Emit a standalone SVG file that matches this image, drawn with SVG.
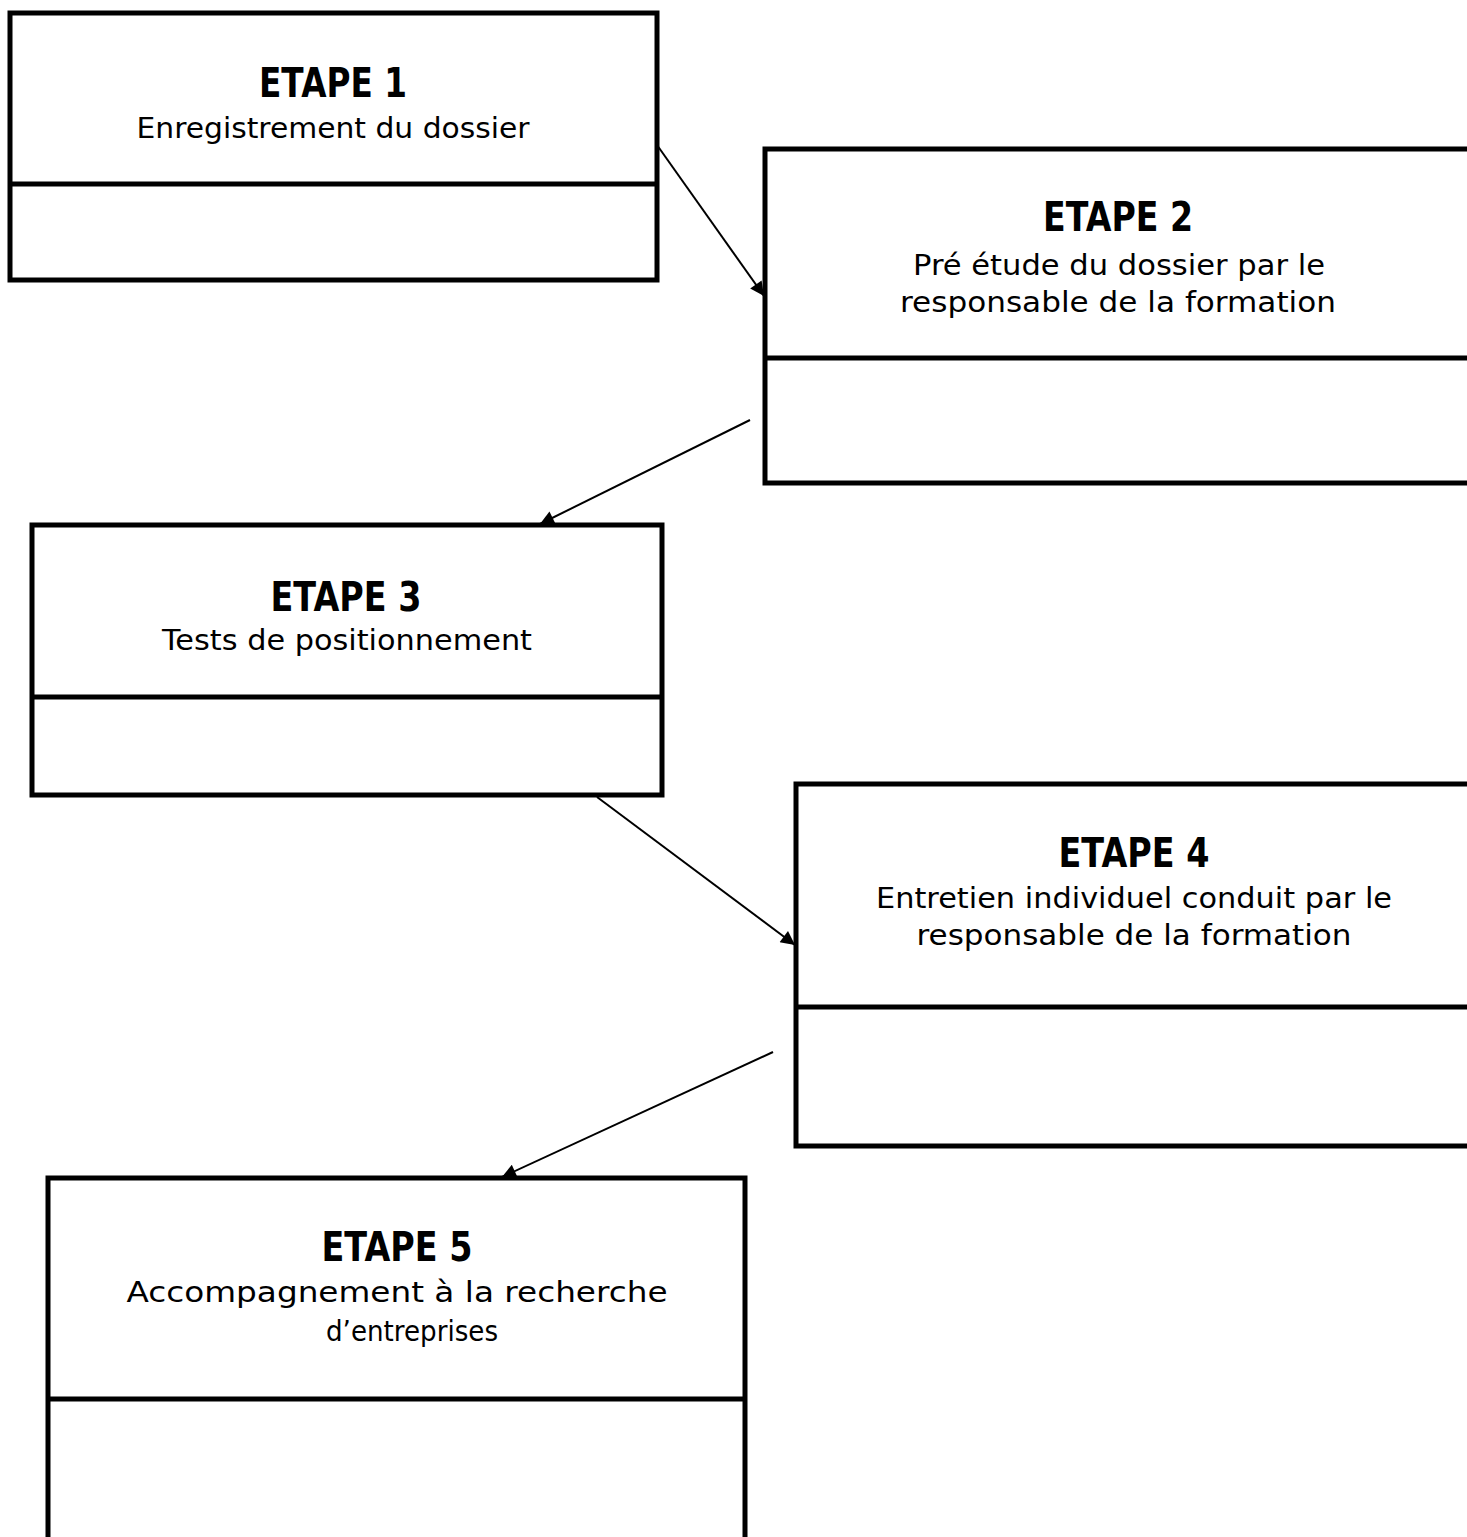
<svg xmlns="http://www.w3.org/2000/svg" width="1467" height="1537" viewBox="0 0 1467 1537">
<style>
.box{fill:#fff;stroke:#000;stroke-width:5}
.div{stroke:#000;stroke-width:5}
.t{font-family:"DejaVu Sans","Liberation Sans",sans-serif;font-weight:bold;font-size:41px;text-anchor:middle;fill:#000}
.s{font-family:"DejaVu Sans","Liberation Sans",sans-serif;font-size:28px;text-anchor:middle;fill:#000}
.c{stroke:#000;stroke-width:2;fill:none;marker-end:url(#ah)}
</style>
<defs>
<marker id="ah" viewBox="0 0 10 10" refX="10" refY="5" markerWidth="8" markerHeight="7" markerUnits="strokeWidth" orient="auto">
<path d="M0,0 L10,5 L0,10 z" fill="#000"/>
</marker>
</defs>
<rect width="1467" height="1537" fill="#fff"/>
<g id="connectors">
<line class="c" x1="657" y1="145" x2="764" y2="296"/>
<line class="c" x1="750" y1="420" x2="540" y2="524"/>
<line class="c" x1="597" y1="797" x2="795" y2="945"/>
<line class="c" x1="773" y1="1052" x2="502" y2="1177"/>
</g>
<g id="node1">
<rect class="box" x="10" y="13" width="647" height="267"/>
<line class="div" x1="10" y1="184" x2="657" y2="184"/>
<text class="t" x="333" y="97" textLength="148" lengthAdjust="spacingAndGlyphs">ETAPE 1</text>
<text class="s" x="333" y="138" textLength="393" lengthAdjust="spacingAndGlyphs">Enregistrement du dossier</text>
</g>
<g id="node2">
<rect class="box" x="765" y="149" width="720" height="334"/>
<line class="div" x1="765" y1="358" x2="1467" y2="358"/>
<text class="t" x="1118" y="231" textLength="150" lengthAdjust="spacingAndGlyphs">ETAPE 2</text>
<text class="s" x="1119" y="275" textLength="412" lengthAdjust="spacingAndGlyphs">Pré étude du dossier par le</text>
<text class="s" x="1118" y="312" textLength="436" lengthAdjust="spacingAndGlyphs">responsable de la formation</text>
</g>
<g id="node3">
<rect class="box" x="32" y="525" width="630" height="270"/>
<line class="div" x1="32" y1="697" x2="662" y2="697"/>
<text class="t" x="346" y="611" textLength="151" lengthAdjust="spacingAndGlyphs">ETAPE 3</text>
<text class="s" x="347" y="650" textLength="370" lengthAdjust="spacingAndGlyphs">Tests de positionnement</text>
</g>
<g id="node4">
<rect class="box" x="796" y="784" width="700" height="362"/>
<line class="div" x1="796" y1="1007" x2="1467" y2="1007"/>
<text class="t" x="1134" y="867" textLength="151" lengthAdjust="spacingAndGlyphs">ETAPE 4</text>
<text class="s" x="1134" y="908" textLength="516" lengthAdjust="spacingAndGlyphs">Entretien individuel conduit par le</text>
<text class="s" x="1134" y="945" textLength="435" lengthAdjust="spacingAndGlyphs">responsable de la formation</text>
</g>
<g id="node5">
<rect class="box" x="48" y="1178" width="697" height="400"/>
<line class="div" x1="48" y1="1399" x2="745" y2="1399"/>
<text class="t" x="397" y="1261" textLength="151" lengthAdjust="spacingAndGlyphs">ETAPE 5</text>
<text class="s" x="397" y="1302" textLength="541" lengthAdjust="spacingAndGlyphs">Accompagnement à la recherche</text>
<text class="s" x="412" y="1341" textLength="172" lengthAdjust="spacingAndGlyphs">d’entreprises</text>
</g>
</svg>
